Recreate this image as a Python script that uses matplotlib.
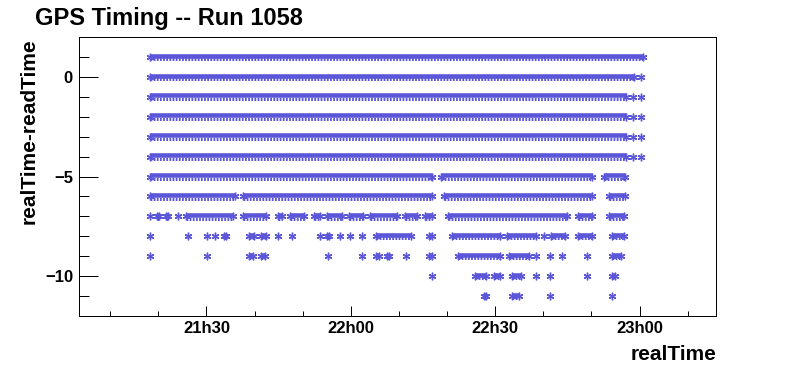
import matplotlib
matplotlib.use("Agg")
import matplotlib.pyplot as plt
from matplotlib.ticker import MultipleLocator, FuncFormatter
from matplotlib.transforms import offset_copy

# x values: minutes after 21:00 ; each row = list of (start, end) runs of readings
row_values = [1, 0, -1, -2, -3, -4, -5, -6, -7, -8, -9, -10, -11]
row_runs = {
    1: [(18.26, 120.75)],
    0: [(18.26, 118.88), (120.34, 120.34)],
    -1: [(18.26, 117.15), (118.74, 118.74), (120.34, 120.34)],
    -2: [(18.26, 117.15), (118.74, 118.74), (120.34, 120.34)],
    -3: [(18.26, 117.15), (118.74, 118.74), (120.34, 120.34)],
    -4: [(18.26, 117.15), (118.74, 118.74), (120.34, 120.34)],
    -5: [(18.26, 76.95), (78.76, 110.21), (112.59, 117.08)],
    -6: [(18.26, 35.89), (37.53, 76.95), (79.32, 110.21), (113.62, 117.08)],
    -7: [(18.26, 18.26), (19.80, 20.19), (21.59, 22.00), (24.08, 24.08),
         (25.75, 35.58), (37.53, 42.38), (44.81, 45.77), (47.30, 50.28),
         (52.29, 53.60), (55.00, 58.18), (59.72, 62.61), (63.94, 69.68),
         (71.21, 73.83), (75.43, 76.95), (80.15, 104.87), (107.24, 110.15),
         (113.62, 116.80)],
    -8: [(18.26, 18.26), (26.16, 26.16), (30.11, 30.11), (31.77, 31.77),
         (33.65, 34.06), (38.78, 39.88), (41.34, 42.38), (44.87, 44.87),
         (47.78, 47.78), (53.60, 53.60), (55.06, 55.54), (57.76, 57.76),
         (59.84, 59.84), (62.34, 62.34), (65.25, 72.59), (76.20, 76.95),
         (81.05, 91.03), (92.56, 98.51), (100.05, 100.05), (101.63, 104.60),
         (107.24, 110.15), (114.31, 116.80)],
    -9: [(18.26, 18.26), (30.11, 30.11), (38.78, 39.74), (41.34, 42.23),
         (55.27, 55.27), (62.34, 62.34), (65.25, 65.93), (67.47, 68.01),
         (71.48, 71.48), (76.20, 76.95), (82.23, 91.03), (92.83, 97.06),
         (98.51, 98.51), (101.42, 101.42), (103.92, 103.92), (109.05, 109.05),
         (114.25, 116.10)],
    -10: [(76.89, 76.89), (85.77, 88.11), (89.71, 91.03), (93.46, 95.45),
          (98.51, 98.51), (101.42, 101.42), (109.05, 109.05), (114.25, 114.93)],
    -11: [(87.64, 88.18), (93.46, 94.98), (101.42, 101.42), (114.31, 114.31)],
}
x_range = (3.5, 135.9)
y_range = (-12, 2)
title = "GPS Timing -- Run 1058"
xlabel = "realTime"
ylabel = "realTime-readTime"

color = "#5c57d9"
W, H, DPI = 796, 372, 100
fig = plt.figure(figsize=(W / DPI, H / DPI), dpi=DPI)
ax = fig.add_axes([79 / W, (H - 316) / H, (716 - 79) / W, (316 - 37) / H])

font = ["Liberation Sans", "DejaVu Sans"]
px = 72.0 / DPI

t_top = offset_copy(ax.transData, fig=fig, x=0, y=1.3, units="dots")
t_bot = offset_copy(ax.transData, fig=fig, x=0, y=-2.2, units="dots")

for y in row_values:
    for a, b in row_runs[y]:
        if b > a:
            ax.hlines(y, a, b, colors=color, lw=4.6 * px, zorder=2,
                      transform=t_top)
            ax.hlines(y, a, b, colors=color, lw=3.0 * px, zorder=2,
                      transform=t_bot, linestyles=(0, (0.6, 0.45)))
            ax.plot([a, b], [y, y], ls="none", marker=(6, 2, 0), ms=5.5,
                    mew=1.0, color=color, zorder=3)
        else:
            ax.plot([a], [y], ls="none", marker=(6, 2, 0), ms=5.5,
                    mew=1.0, color=color, zorder=3)

ax.set_xlim(*x_range)
ax.set_ylim(*y_range)

ax.xaxis.set_major_locator(MultipleLocator(30))
ax.xaxis.set_minor_locator(MultipleLocator(10))
ax.xaxis.set_major_formatter(FuncFormatter(
    lambda v, p: "%dh%02d" % (21 + int(round(v)) // 60, int(round(v)) % 60)))
ax.yaxis.set_major_locator(MultipleLocator(5))
ax.yaxis.set_minor_locator(MultipleLocator(1))

ax.tick_params(axis="x", which="major", direction="in", length=10 * px,
               width=1 * px, pad=5 * px)
ax.tick_params(axis="x", which="minor", direction="in", length=5 * px, width=1 * px)
ax.tick_params(axis="y", which="major", direction="in", length=18.7 * px,
               width=1 * px, pad=6 * px)
ax.tick_params(axis="y", which="minor", direction="in", length=9.5 * px, width=1 * px)
ax.tick_params(top=False, right=False)

for lab in ax.get_xticklabels() + ax.get_yticklabels():
    lab.set_fontfamily(font)
    lab.set_fontweight("bold")
    lab.set_fontsize(12)

for s in ax.spines.values():
    s.set_linewidth(1.0 * px)
    s.set_color("black")

fig.text(35 / W, 1 - 7 / H, title, ha="left", va="top", fontsize=17,
         fontweight="bold", family=font)
fig.text(716 / W, 1 - 355 / H, xlabel, ha="right", va="center", fontsize=15,
         fontweight="bold", family=font)
fig.text(29.5 / W, 1 - 38 / H, ylabel, ha="center", va="top", rotation=90,
         fontsize=15, fontweight="bold", family=font)

fig.savefig("out.png", dpi=DPI)
